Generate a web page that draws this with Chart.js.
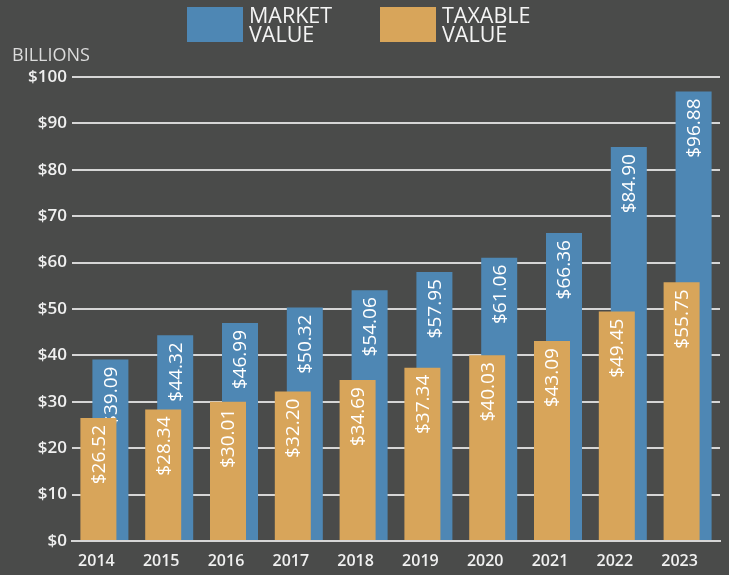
<!DOCTYPE html>
<html>
<head>
<meta charset="utf-8">
<script src="https://cdn.jsdelivr.net/npm/chart.js@4/dist/chart.umd.min.js"></script>
<style>
  html, body { margin: 0; padding: 0; background: #4a4b4a; }
  #wrap { width: 729px; height: 575px; }
</style>
</head>
<body>
<div id="wrap"><canvas id="valuesChart" width="729" height="575"></canvas></div>
<script>
const years = ['2014', '2015', '2016', '2017', '2018', '2019', '2020', '2021', '2022', '2023'];
const marketValue = [39.09, 44.32, 46.99, 50.32, 54.06, 57.95, 61.06, 66.36, 84.90, 96.88];
const taxableValue = [26.52, 28.34, 30.01, 32.20, 34.69, 37.34, 40.03, 43.09, 49.45, 55.75];
const legendLines = [['MARKET', 'VALUE'], ['TAXABLE', 'VALUE']];
const axisTitle = 'BILLIONS';

const blue = '#4e87b4';
const tan = '#d8a55a';
const bg = '#4a4b4a';

// background + legend + "BILLIONS" drawn on the canvas
const frame = {
  id: 'frame',
  beforeDraw(chart) {
    const ctx = chart.ctx;
    ctx.save();
    ctx.fillStyle = bg;
    ctx.fillRect(0, 0, chart.width, chart.height);
    ctx.restore();
  },
  afterDraw(chart) {
    const ctx = chart.ctx;
    ctx.save();
    const boxes = [{ x: 187, color: blue }, { x: 380, color: tan }];
    boxes.forEach((b, i) => {
      ctx.fillStyle = b.color;
      ctx.fillRect(b.x, 7, 56, 35);
      ctx.fillStyle = '#f4f4f4';
      ctx.font = '500 21.5px "Open Sans"';
      ctx.textAlign = 'left';
      ctx.textBaseline = 'alphabetic';
      legendLines[i].forEach((line, j) => {
        ctx.fillText(line, b.x + 62, 23 + j * 19.3);
      });
    });
    ctx.fillStyle = '#dcdcdc';
    ctx.font = '18px "Open Sans"';
    ctx.fillText(axisTitle, 12, 60.5);
    ctx.restore();
  }
};

// value labels, rotated, drawn right after each dataset so the front bar covers them
const barLabels = {
  id: 'barLabels',
  afterDatasetDraw(chart, args) {
    const ctx = chart.ctx;
    const values = chart.data.datasets[args.index].data;
    ctx.save();
    ctx.fillStyle = '#ffffff';
    ctx.font = '19px "Open Sans"';
    ctx.textAlign = 'right';
    ctx.textBaseline = 'middle';
    args.meta.data.forEach((bar, i) => {
      ctx.save();
      ctx.translate(bar.x + 1, bar.y + 7);
      ctx.rotate(-Math.PI / 2);
      ctx.fillText('$' + values[i].toFixed(2), 0, 0);
      ctx.restore();
    });
    ctx.restore();
  }
};

const ctx = document.getElementById('valuesChart').getContext('2d');
const valuesChart = new Chart(ctx, {
  type: 'bar',
  data: {
    labels: years,
    datasets: [{
      label: 'Market Value',
      data: marketValue,
      backgroundColor: blue,
      order: 2,
      categoryPercentage: 0.3704,
      barPercentage: 3
    }, {
      label: 'Taxable Value',
      data: taxableValue,
      backgroundColor: tan,
      order: 1,
      categoryPercentage: 0.3704,
      barPercentage: 3
    }]
  },
  options: {
    responsive: false,
    animation: false,
    maintainAspectRatio: false,
    layout: { padding: { top: 77, right: 9, bottom: 0, left: 0 } },
    plugins: {
      legend: { display: false },
      tooltip: { enabled: false }
    },
    scales: {
      x: {
        z: 1,
        grid: { display: false, drawTicks: false },
        border: { display: true, color: '#d6d6d6', width: 2 },
        ticks: {
          color: '#f0f0f0',
          padding: 11,
          labelOffset: -8,
          font: { family: 'Open Sans', size: 16, weight: '600' }
        },
        afterFit: s => { s.height = 34; }
      },
      y: {
        min: 0,
        max: 100,
        grid: { color: '#d6d6d6', lineWidth: 2, drawTicks: false },
        border: { display: false },
        ticks: {
          stepSize: 10,
          color: '#f0f0f0',
          padding: 5,
          font: { family: 'Open Sans', size: 17, weight: '600' },
          callback: v => '$' + v
        },
        afterFit: s => { s.width = 72; }
      }
    }
  },
  plugins: [frame, barLabels]
});
</script>
</body>
</html>
